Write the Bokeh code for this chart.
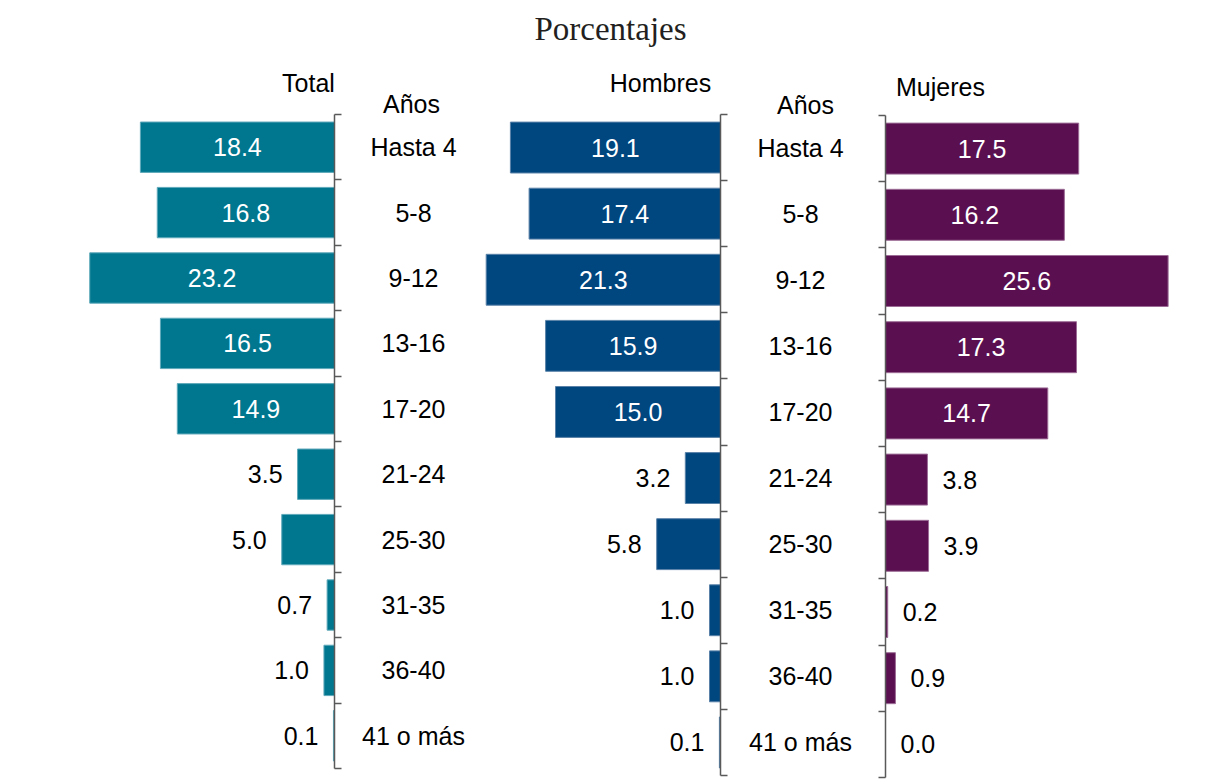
from bokeh.plotting import figure
from bokeh.models import (ColumnDataSource, Range1d, LinearAxis, FixedTicker, Label)
from bokeh.core.properties import value
from bokeh.embed import file_html
from bokeh.resources import INLINE

# ---------------- data ----------------
categories = ["Hasta 4", "5-8", "9-12", "13-16", "17-20",
              "21-24", "25-30", "31-35", "36-40", "41 o más"]
total = [18.4, 16.8, 23.2, 16.5, 14.9, 3.5, 5.0, 0.7, 1.0, 0.1]
hombres = [19.1, 17.4, 21.3, 15.9, 15.0, 3.2, 5.8, 1.0, 1.0, 0.1]
mujeres = [17.5, 16.2, 25.6, 17.3, 14.7, 3.8, 3.9, 0.2, 0.9, 0.0]

panel_titles = ["Total", "Hombres", "Mujeres"]
subtitle = "Porcentajes"
years_label = "Años"

# ---------------- layout ----------------
W, H = 1205, 779
FONT_NAME = "Liberation Sans"
FONT = value(FONT_NAME)
FS = "25px"

p = figure(width=W, height=H, x_range=Range1d(0, W), y_range=Range1d(H, 0),
           output_backend="svg", toolbar_location=None, min_border=0,
           x_axis_location=None, y_axis_location=None)
p.grid.visible = False
p.outline_line_color = None
p.background_fill_color = "white"
p.border_fill_color = "white"

n = len(categories)
ypos = [r + 0.5 for r in range(n)]

# panel spec: (name, values, direction, axis px, px per unit, top px, bottom px, fill, edge, tick side, cat label offset)
panels = [
    ("total", total, -1, 334, 10.55, 114, 768, "#00778F", "#5FA9BA", "in", 79),
    ("hombres", hombres, -1, 720, 11.0, 114, 775, "#00467F", "#5A82A8", "in", 80),
    ("mujeres", mujeres, 1, 885, 11.04, 115, 777, "#5A1050", "#9C6C96", "out", None),
]

for name, vals, d, ax_px, scale, top, bot, fill, edge, tickside, cat_off in panels:
    p.extra_x_ranges[name] = Range1d(-ax_px / scale, (W - ax_px) / scale)
    row_h = (bot - top) / n
    p.extra_y_ranges[name] = Range1d((H - top) / row_h, -top / row_h)

    left = [min(0, d * v) for v in vals]
    right = [max(0, d * v) for v in vals]
    src = ColumnDataSource(dict(y=ypos, left=left, right=right, v=vals, cat=categories))
    p.hbar(y="y", left="left", right="right", height=0.77, source=src,
           fill_color=fill, line_color=edge, line_width=1,
           x_range_name=name, y_range_name=name)

    inside = [i for i, v in enumerate(vals) if v >= 10]
    outside = [i for i, v in enumerate(vals) if v < 10]
    in_src = ColumnDataSource(dict(x=[d * vals[i] / 2 for i in inside],
                                   y=[ypos[i] for i in inside],
                                   t=[f"{vals[i]:.1f}" for i in inside]))
    out_src = ColumnDataSource(dict(x=[d * vals[i] for i in outside],
                                    y=[ypos[i] for i in outside],
                                    t=[f"{vals[i]:.1f}" for i in outside]))
    p.text(x="x", y="y", text="t", source=in_src, text_font=FONT, text_font_size=FS,
           text_color="white", text_align="center", text_baseline="middle",
           x_range_name=name, y_range_name=name)
    p.text(x="x", y="y", text="t", source=out_src, text_font=FONT, text_font_size=FS,
           text_color="black", text_align="right" if d < 0 else "left",
           text_baseline="middle", x_offset=15 * d,
           x_range_name=name, y_range_name=name)

    if cat_off is not None:
        cat_src = ColumnDataSource(dict(x=[0] * n, y=ypos, t=categories))
        p.text(x="x", y="y", text="t", source=cat_src, text_font=FONT, text_font_size=FS,
               text_color="black", text_align="center", text_baseline="middle",
               x_offset=cat_off, x_range_name=name, y_range_name=name)

    ax = LinearAxis(x_range_name=name, y_range_name=name, fixed_location=0,
                    bounds=(0, n),
                    ticker=FixedTicker(ticks=list(range(n + 1))),
                    major_label_overrides={i: "" for i in range(n + 1)},
                    major_label_text_font_size="0px",
                    axis_line_color="#595959", axis_line_width=1.5,
                    major_tick_line_color="#595959", major_tick_line_width=1.5,
                    minor_tick_line_color=None)
    if tickside == "in":
        ax.major_tick_in = 7
        ax.major_tick_out = 0
    else:
        ax.major_tick_in = 0
        ax.major_tick_out = 7
    p.add_layout(ax, "left")

# ---------------- headers ----------------
def lab(text, x, y, font=FONT_NAME, size=FS, color="black"):
    p.add_layout(Label(x=x, y=y, text=text, text_font=font, text_font_size=size,
                       text_color=color, text_align="center", text_baseline="middle"))

lab(subtitle, 610, 28, font="Liberation Serif", size="33px", color="#231F20")
lab(panel_titles[0], 308, 82)
lab(panel_titles[1], 660, 82)
lab(panel_titles[2], 940, 86)
lab(years_label, 411, 103)
lab(years_label, 805, 104)

open("out.html", "w").write(file_html(p, INLINE))
